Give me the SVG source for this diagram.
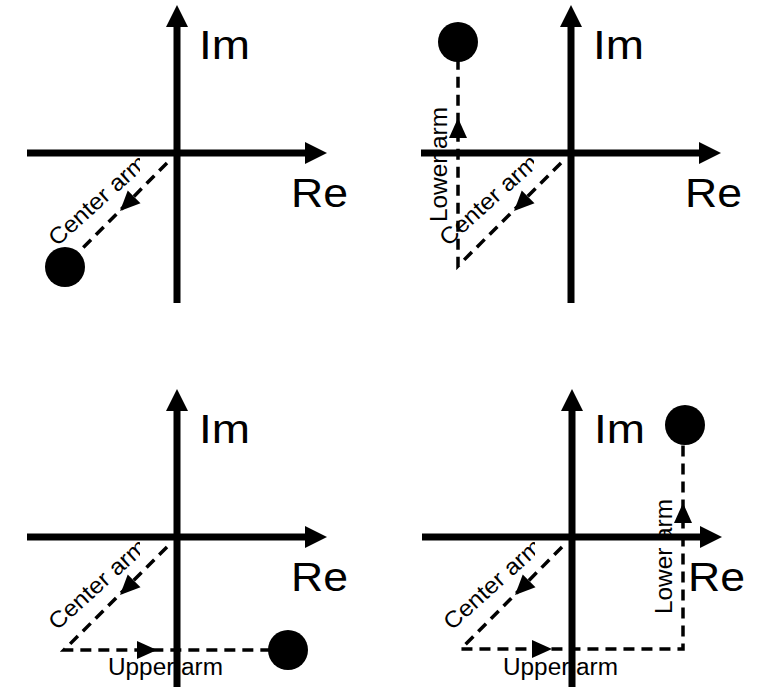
<svg xmlns="http://www.w3.org/2000/svg" xmlns:xlink="http://www.w3.org/1999/xlink" width="758" height="687" viewBox="0 0 758 687">
<style>
.axis{stroke:#000;stroke-width:7;fill:none}
.arm{stroke:#000;stroke-width:3.5;stroke-dasharray:11 7;fill:none}
.big{font-family:"Liberation Sans",Arial,sans-serif;font-size:40px;fill:#000}
.lbl{font-family:"Liberation Sans",Arial,sans-serif;font-size:23px;fill:#000}
.dot{fill:#000}
</style>
<defs>
<path id="axh" d="M0,0 L-22,-11 L-22,11 Z" fill="#000"/>
<path id="ah" d="M0,0 L-20,-9 L-20,9 Z" fill="#000"/>
<clipPath id="cut" clipPathUnits="userSpaceOnUse"><rect x="-200" y="-200" width="163" height="400"/></clipPath>
</defs>
<rect width="758" height="687" fill="#fff"/>

<g id="panel1" transform="translate(177,153)">
  <text class="big" x="22" y="-94" textLength="51" lengthAdjust="spacingAndGlyphs">Im</text>
  <text class="big" x="114" y="54" textLength="57" lengthAdjust="spacingAndGlyphs">Re</text>
  <g clip-path="url(#cut)"><text class="lbl" transform="translate(-120,94) rotate(-42)" textLength="123" lengthAdjust="spacingAndGlyphs">Center arm</text></g>
  <g id="axes1">
    <line class="axis" x1="-150" y1="0" x2="130" y2="0"/>
    <use xlink:href="#axh" transform="translate(150,0)"/>
    <line class="axis" x1="0" y1="150" x2="0" y2="-128"/>
    <use xlink:href="#axh" transform="translate(0,-148) rotate(-90)"/>
  </g>
  <g id="arms1">
    <path class="arm" d="M-10,10 L-112,113"/>
    <use xlink:href="#ah" transform="translate(-57,58) rotate(135)"/>
  </g>
  <circle id="phasor1" class="dot" cx="-112" cy="114" r="20"/>
</g>

<g id="panel2" transform="translate(571,153)">
  <text class="big" x="22" y="-94" textLength="51" lengthAdjust="spacingAndGlyphs">Im</text>
  <text class="big" x="114" y="54" textLength="57" lengthAdjust="spacingAndGlyphs">Re</text>
  <g clip-path="url(#cut)"><text class="lbl" transform="translate(-123,94) rotate(-42)" textLength="123" lengthAdjust="spacingAndGlyphs">Center arm</text></g>
  <text class="lbl" transform="translate(-124,69) rotate(-90)" textLength="115" lengthAdjust="spacingAndGlyphs">Lower arm</text>
  <g id="axes2">
    <line class="axis" x1="-150" y1="0" x2="130" y2="0"/>
    <use xlink:href="#axh" transform="translate(150,0)"/>
    <line class="axis" x1="0" y1="150" x2="0" y2="-128"/>
    <use xlink:href="#axh" transform="translate(0,-148) rotate(-90)"/>
  </g>
  <g id="arms2">
    <path class="arm" d="M-10,10 L-113,113 L-113,-100"/>
    <use xlink:href="#ah" transform="translate(-57,58) rotate(135)"/>
    <use xlink:href="#ah" transform="translate(-113,-35) rotate(-90)"/>
  </g>
  <circle id="phasor2" class="dot" cx="-113" cy="-111" r="20"/>
</g>

<g id="panel3" transform="translate(177,537)">
  <text class="big" x="22" y="-94" textLength="51" lengthAdjust="spacingAndGlyphs">Im</text>
  <text class="big" x="114" y="54" textLength="57" lengthAdjust="spacingAndGlyphs">Re</text>
  <g clip-path="url(#cut)"><text class="lbl" transform="translate(-120,94) rotate(-42)" textLength="123" lengthAdjust="spacingAndGlyphs">Center arm</text></g>
  <text class="lbl" x="-69" y="138" textLength="115" lengthAdjust="spacingAndGlyphs">Upper arm</text>
  <g id="axes3">
    <line class="axis" x1="-150" y1="0" x2="130" y2="0"/>
    <use xlink:href="#axh" transform="translate(150,0)"/>
    <line class="axis" x1="0" y1="160" x2="0" y2="-128"/>
    <use xlink:href="#axh" transform="translate(0,-148) rotate(-90)"/>
  </g>
  <g id="arms3">
    <path class="arm" d="M-10,10 L-113,113 L100,113"/>
    <use xlink:href="#ah" transform="translate(-57,58) rotate(135)"/>
    <use xlink:href="#ah" transform="translate(-20,113)"/>
  </g>
  <circle id="phasor3" class="dot" cx="111" cy="113" r="20"/>
</g>

<g id="panel4" transform="translate(572,537)">
  <text class="big" x="22" y="-94" textLength="51" lengthAdjust="spacingAndGlyphs">Im</text>
  <text class="big" x="116" y="54" textLength="57" lengthAdjust="spacingAndGlyphs">Re</text>
  <g clip-path="url(#cut)"><text class="lbl" transform="translate(-120,94) rotate(-42)" textLength="123" lengthAdjust="spacingAndGlyphs">Center arm</text></g>
  <text class="lbl" x="-69" y="138" textLength="115" lengthAdjust="spacingAndGlyphs">Upper arm</text>
  <text class="lbl" transform="translate(100,77) rotate(-90)" textLength="115" lengthAdjust="spacingAndGlyphs">Lower arm</text>
  <g id="axes4">
    <line class="axis" x1="-150" y1="0" x2="130" y2="0"/>
    <use xlink:href="#axh" transform="translate(150,0)"/>
    <line class="axis" x1="0" y1="160" x2="0" y2="-128"/>
    <use xlink:href="#axh" transform="translate(0,-148) rotate(-90)"/>
  </g>
  <g id="arms4">
    <path class="arm" d="M-10,10 L-111,112 L111,112 L111,-100"/>
    <use xlink:href="#ah" transform="translate(-57,58) rotate(135)"/>
    <use xlink:href="#ah" transform="translate(-20,112)"/>
    <use xlink:href="#ah" transform="translate(111,-34) rotate(-90)"/>
  </g>
  <circle id="phasor4" class="dot" cx="113" cy="-112" r="20"/>
</g>
</svg>
